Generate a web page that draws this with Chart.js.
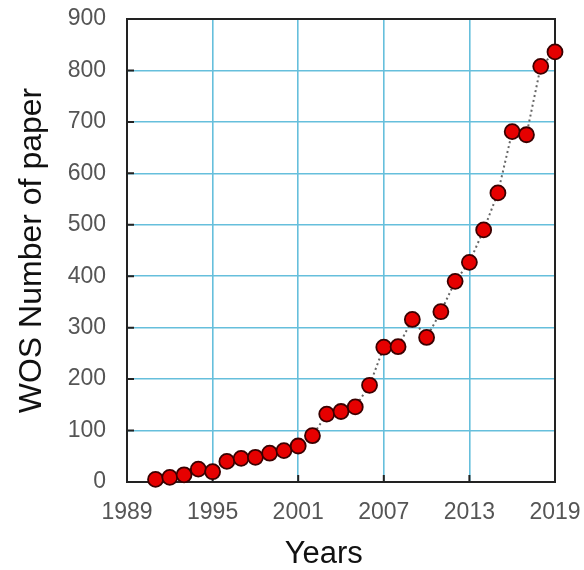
<!DOCTYPE html>
<html>
<head>
<meta charset="utf-8">
<script src="https://cdn.jsdelivr.net/npm/chart.js@4"></script>
<style>
  html, body { margin: 0; padding: 0; background: #fff; }
  #wrap { width: 584px; height: 570px; }
</style>
</head>
<body>
<div id="wrap"><canvas id="papers" width="584" height="570"></canvas></div>
<script>
const years = [1991, 1992, 1993, 1994, 1995, 1996, 1997, 1998, 1999, 2000,
               2001, 2002, 2003, 2004, 2005, 2006, 2007, 2008, 2009, 2010,
               2011, 2012, 2013, 2014, 2015, 2016, 2017, 2018, 2019];
const paperCounts = [5, 9, 14, 25, 20, 40, 46, 48, 56, 61,
                     70, 90, 132, 137, 146, 188, 262, 263, 316, 281,
                     331, 390, 427, 490, 562, 681, 675, 808, 836];
const xTicks = [1989, 1995, 2001, 2007, 2013, 2019];
const yTicks = [0, 100, 200, 300, 400, 500, 600, 700, 800, 900];

const points = years.map((y, i) => ({x: y, y: paperCounts[i]}));

// black frame + short inward tick marks, drawn under the points
const framePlugin = {
    id: 'frame',
    beforeDatasetsDraw(chart) {
        const {ctx, chartArea, scales} = chart;
        ctx.save();
        ctx.strokeStyle = '#222';
        ctx.lineWidth = 2;
        ctx.strokeRect(chartArea.left, chartArea.top, chartArea.right - chartArea.left, chartArea.bottom - chartArea.top);
        ctx.beginPath();
        xTicks.forEach(t => {
            const px = scales.x.getPixelForValue(t);
            ctx.moveTo(px, chartArea.bottom);
            ctx.lineTo(px, chartArea.bottom - 7);
        });
        yTicks.forEach(t => {
            const py = scales.y.getPixelForValue(t);
            ctx.moveTo(chartArea.left, py);
            ctx.lineTo(chartArea.left + 7, py);
        });
        ctx.stroke();
        ctx.restore();
    }
};

new Chart(document.getElementById('papers'), {
    type: 'scatter',
    data: {
        datasets: [{
            data: points,
            showLine: true,
            borderColor: '#666',
            borderWidth: 2,
            borderDash: [2, 3],
            pointRadius: 7.5,
            pointBackgroundColor: '#e60000',
            pointBorderColor: '#3a0000',
            pointBorderWidth: 1.8,
            clip: false
        }]
    },
    options: {
        responsive: false,
        animation: false,
        layout: { padding: { top: 19, right: 29, left: 0, bottom: 0 } },
        plugins: { legend: { display: false }, tooltip: { enabled: false } },
        scales: {
            x: {
                type: 'linear',
                min: 1989,
                max: 2019,
                afterBuildTicks: scale => { scale.ticks = xTicks.map(v => ({value: v})); },
                afterFit: scale => {
                    scale.height = 88;
                    scale.paddingLeft = 0;
                    scale.paddingRight = 0;
                },
                grid: { color: '#66bfdc', lineWidth: 1.6, drawTicks: false },
                border: { display: false },
                ticks: {
                    padding: 17,
                    color: '#555',
                    font: { family: 'Liberation Sans, Arial, sans-serif', size: 23 },
                    callback: v => String(v)
                },
                title: {
                    display: true,
                    text: 'Years\u00a0\u00a0\u00a0\u00a0',
                    color: '#111',
                    font: { family: 'Liberation Sans, Arial, sans-serif', size: 31 },
                    padding: { top: 0, bottom: -3 }
                }
            },
            y: {
                min: 0,
                max: 900,
                afterBuildTicks: scale => { scale.ticks = yTicks.map(v => ({value: v})); },
                afterFit: scale => {
                    scale.width = 127;
                    scale.paddingTop = 0;
                    scale.paddingBottom = 0;
                },
                grid: { color: '#66bfdc', lineWidth: 1.6, drawTicks: false },
                border: { display: false },
                ticks: {
                    padding: 21,
                    color: '#555',
                    font: { family: 'Liberation Sans, Arial, sans-serif', size: 23 }
                },
                title: {
                    display: true,
                    text: 'WOS Number of paper',
                    color: '#111',
                    font: { family: 'Liberation Sans, Arial, sans-serif', size: 32 },
                    padding: { top: 13, bottom: 0 }
                }
            }
        }
    },
    plugins: [framePlugin]
});
</script>
</body>
</html>
